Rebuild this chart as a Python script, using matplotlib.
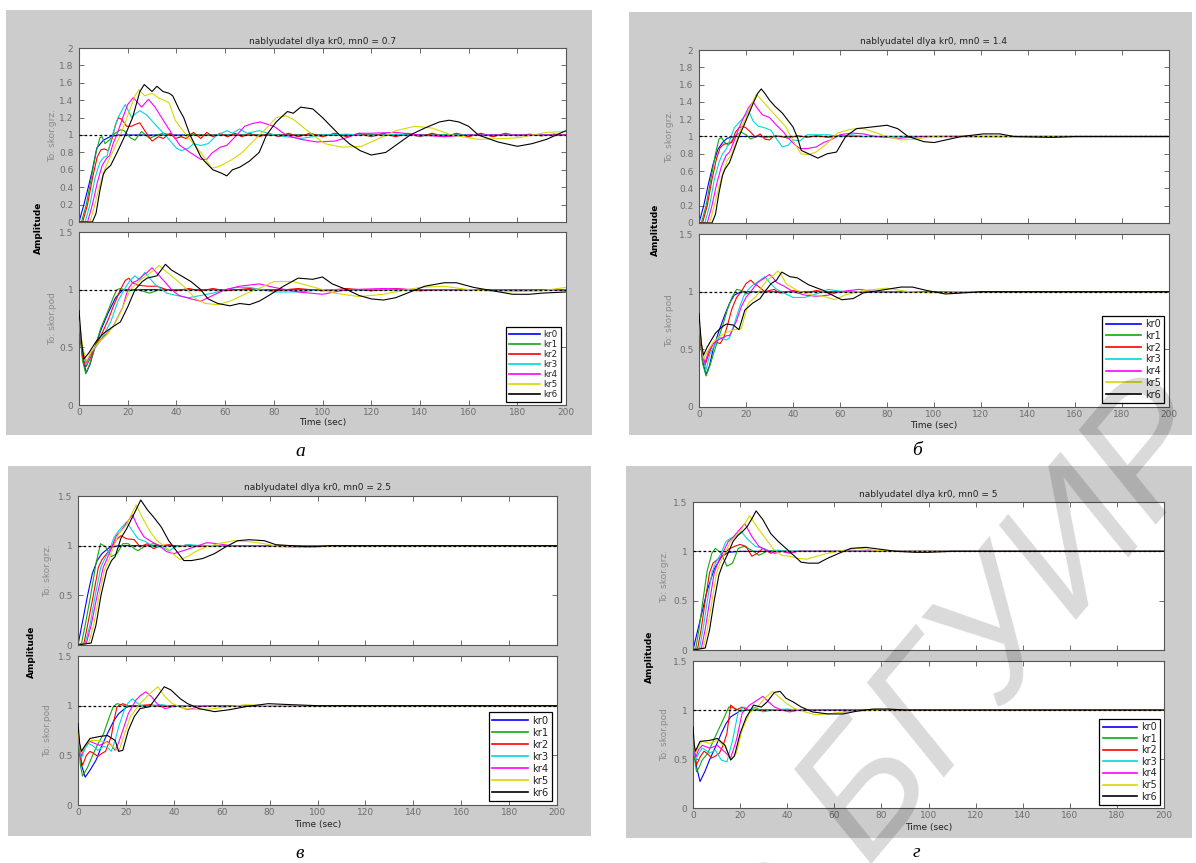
import matplotlib
matplotlib.use("Agg")
import matplotlib.pyplot as plt
from matplotlib.patches import Rectangle

# ---------------- data ----------------
series_labels = ["kr0", "kr1", "kr2", "kr3", "kr4", "kr5", "kr6"]
series_colors = ["#0000ff", "#10a810", "#ff0000", "#00d8d8", "#ff00ff", "#d8d800", "#000000"]

panel_titles = ["nablyudatel dlya kr0, mn0 = 0.7", "nablyudatel dlya kr0, mn0 = 1.4",
                "nablyudatel dlya kr0, mn0 = 2.5", "nablyudatel dlya kr0, mn0 = 5"]
panel_letters = ["а", "б", "в", "г"]
x_ticks = [0, 20, 40, 60, 80, 100, 120, 140, 160, 180, 200]
y_ticks_2 = [0, 0.2, 0.4, 0.6, 0.8, 1, 1.2, 1.4, 1.6, 1.8, 2]
y_ticks_15 = [0, 0.5, 1, 1.5]

# panel a (mn0 = 0.7) -- To: skor.grz.
a_grz_kr0 = [(0,0),(2,0.2),(4,0.42),(5.5,0.6),(7.3,0.85),(10,0.94),(12.7,0.98),(16,1.0),(200,1.0)]
a_grz_kr1 = [(0,0),(1,0),(3,0.2),(5,0.5),(7,0.8),(8.6,0.97),(9.5,0.98),(10.7,0.9),(12.7,0.95),(14.8,1.02),(17,1.06),(18.5,1.05),(21,0.97),(23,0.94),(25.7,1.04),(29,0.96),(32,1.0),(34.6,1.02),(38,1.0),(42,0.99),(46,1.01),(50,1.0),(200,1.0)]
a_grz_kr2 = [(0,0),(1.5,0),(3.5,0.2),(5.5,0.5),(7.5,0.75),(9,0.83),(10.5,0.84),(12,0.82),(13.5,0.95),(15,1.12),(16.2,1.2),(17.5,1.18),(19.6,1.1),(21.5,1.1),(23,1.12),(25,1.14),(27,1.05),(30,0.93),(32.6,0.98),(34.6,0.96),(37.4,1.02),(39.5,0.96),(42,0.98),(44,0.96),(47,1.03),(50,0.96),(52.5,1.03),(55,0.98),(58,1.02),(61,0.98),(64,1.02),(67,0.98),(70,1.02),(74,0.98),(78,1.02),(82,0.98),(86,1.02),(90,0.98),(95,1.02),(100,0.98),(105,1.02),(110,0.98),(115,1.02),(120,0.98),(125,1.02),(130,0.98),(135,1.02),(140,0.98),(145,1.02),(150,0.98),(155,1.02),(160,0.98),(165,1.02),(170,0.98),(175,1.02),(180,0.99),(185,1.01),(190,0.99),(195,1.01),(200,1.0)]
a_grz_kr3 = [(0,0),(2.5,0),(4.5,0.2),(6.5,0.5),(8.5,0.68),(10,0.74),(11.5,0.76),(13.5,0.98),(16,1.2),(19,1.35),(21.6,1.2),(23,1.24),(25,1.28),(27.8,1.23),(32,1.1),(36,0.98),(40,0.85),(42,0.82),(45,0.85),(47,0.9),(50,0.88),(53,0.9),(56.6,1.0),(58.6,1.02),(60.7,1.05),(63,1.02),(66,1.07),(69,1.02),(74,1.05),(80,1.0),(85,0.98),(91,0.96),(96,0.98),(100,1.0),(110,1.01),(120,0.99),(130,1.01),(140,0.99),(150,1.0),(200,1.0)]
a_grz_kr4 = [(0,0),(3.5,0),(5.5,0.2),(7.5,0.45),(9.5,0.65),(11.5,0.74),(12.5,0.76),(14,0.9),(15.5,1.0),(18,1.2),(20,1.35),(22.3,1.43),(25.7,1.32),(28.5,1.41),(31,1.33),(34.6,1.17),(38,1.02),(41.5,0.88),(45.6,0.8),(50,0.72),(52.5,0.72),(54.5,0.79),(58,0.86),(60.7,0.88),(64.8,1.0),(68,1.1),(71,1.13),(74.4,1.15),(80,1.1),(85,1.0),(91,0.95),(97.7,0.92),(105,0.93),(110,0.97),(115,1.02),(120,1.02),(130,1.03),(140,1.0),(150,0.98),(160,1.0),(200,1.0)]
a_grz_kr5 = [(0,0),(4.5,0),(6.5,0.2),(8.5,0.42),(10.5,0.6),(12,0.7),(13,0.75),(15,0.88),(17,1.0),(19,1.15),(21,1.3),(23,1.45),(24.6,1.52),(27,1.45),(30,1.48),(33,1.42),(35,1.4),(37,1.37),(39.5,1.17),(44,1.0),(50,0.8),(54.5,0.62),(56.6,0.63),(59,0.66),(63,0.72),(67,0.8),(71.6,0.93),(76,1.05),(81,1.2),(85,1.22),(88,1.18),(96,1.0),(101,0.9),(108,0.86),(116,0.87),(124,0.97),(130,1.05),(138,1.1),(145,1.08),(153,1.0),(164,0.95),(175,0.96),(181,0.97),(192,1.03),(200,1.04)]
a_grz_kr6 = [(0,0),(5.5,0),(7,0.1),(8.5,0.35),(10,0.55),(11,0.6),(13,0.65),(16,0.82),(19,1.0),(22,1.2),(25,1.5),(26.8,1.58),(30,1.5),(32,1.56),(34.5,1.5),(37,1.48),(38.5,1.45),(41,1.3),(43,1.2),(45.6,1.0),(50,0.75),(51.5,0.7),(55,0.6),(58.6,0.56),(60.7,0.53),(63,0.6),(66,0.63),(70,0.7),(74,0.8),(77,1.0),(81,1.15),(85.6,1.27),(88,1.25),(91,1.32),(96,1.3),(100,1.2),(107,1.0),(111,0.9),(115.5,0.82),(120,0.77),(126,0.8),(131,0.9),(136,1.0),(142,1.08),(148,1.15),(152,1.17),(156,1.15),(160,1.1),(164,1.0),(172,0.92),(180,0.87),(186,0.9),(192,0.95),(200,1.05)]

# panel a -- To: skor.pod
a_pod_kr0 = [(0,0.7),(1.5,0.4),(3,0.28),(4.5,0.35),(6.5,0.5),(9,0.65),(12,0.8),(15,0.93),(18,1.0),(200,1.0)]
a_pod_kr1 = [(0,0.7),(1.5,0.38),(2.8,0.27),(4.5,0.36),(6.5,0.5),(9,0.67),(12,0.82),(14,0.93),(15.5,1.0),(17,1.01),(20,0.99),(24,1.0),(29,0.97),(33,1.0),(40,1.0),(200,1.0)]
a_pod_kr2 = [(0,0.72),(1.5,0.42),(2.8,0.33),(4.5,0.4),(6.5,0.5),(9,0.6),(12,0.74),(14,0.85),(17,1.0),(19,1.08),(20.5,1.1),(22,1.06),(24,1.04),(28,1.03),(32,1.03),(36,1.0),(40,0.99),(45,1.01),(50,0.99),(55,1.01),(60,0.99),(70,1.01),(80,0.99),(90,1.01),(100,0.99),(110,1.01),(120,0.99),(130,1.01),(140,0.99),(150,1.0),(200,1.0)]
a_pod_kr3 = [(0,0.72),(1.5,0.45),(3,0.35),(5,0.45),(7.5,0.52),(10,0.6),(13,0.72),(16,0.9),(18.5,1.0),(21,1.08),(23,1.12),(25,1.08),(27,1.15),(29,1.1),(31,1.05),(36,0.97),(40,0.95),(45,0.93),(50,0.95),(55,0.97),(60,1.0),(65,1.02),(70,1.02),(80,0.98),(90,0.98),(100,1.0),(120,1.0),(200,1.0)]
a_pod_kr4 = [(0,0.73),(1.5,0.48),(3,0.37),(5,0.45),(7.5,0.53),(10.5,0.6),(14,0.68),(18,0.85),(20,1.0),(22,1.06),(24,1.08),(26,1.12),(28,1.15),(30,1.19),(33,1.12),(36,1.05),(38,1.0),(41,0.95),(46,0.92),(50,0.9),(55,0.95),(60,1.0),(66,1.03),(70,1.04),(74,1.05),(80,1.02),(90,0.98),(100,0.96),(110,1.0),(125,1.01),(140,1.0),(200,1.0)]
a_pod_kr5 = [(0,0.75),(1.5,0.5),(3,0.38),(5,0.46),(7.5,0.53),(11,0.6),(14,0.68),(17,0.8),(21,1.0),(25,1.08),(29,1.14),(33,1.21),(35,1.17),(38,1.12),(43,1.03),(48,0.92),(52,0.88),(57,0.87),(62,0.9),(68,0.96),(75,1.02),(80,1.07),(88,1.07),(95,1.03),(105,0.97),(115,0.94),(125,0.96),(140,1.02),(150,1.03),(160,1.0),(175,0.98),(190,0.99),(200,1.02)]
a_pod_kr6 = [(0,0.82),(1,0.55),(2,0.4),(4,0.45),(7,0.55),(10,0.62),(14,0.68),(17,0.72),(20,0.85),(23,1.0),(26,1.07),(28,1.1),(32,1.12),(35.5,1.22),(38,1.17),(42,1.12),(46,1.07),(50,1.0),(53,0.92),(57,0.88),(62,0.86),(66,0.88),(70,0.87),(74,0.9),(78,0.95),(84,1.03),(90,1.1),(96,1.09),(100,1.11),(104,1.05),(110,1.0),(115,0.95),(120,0.92),(125,0.91),(130,0.93),(136,0.98),(142,1.03),(150,1.06),(155,1.06),(162,1.02),(170,0.99),(178,0.96),(185,0.96),(190,0.97),(200,0.98)]

# panel b (mn0 = 1.4) -- To: skor.grz.
b_grz_kr0 = [(0,0),(2,0.2),(4,0.45),(6,0.68),(8,0.85),(10,0.93),(12,0.98),(15,1.0),(200,1.0)]
b_grz_kr1 = [(0,0),(1,0),(3,0.2),(5,0.5),(7,0.8),(8.5,0.97),(9.5,0.99),(11,0.93),(12.5,0.9),(14,0.95),(16,1.02),(18,1.05),(20,1.02),(22,0.97),(25,1.01),(28,0.99),(32,1.0),(200,1.0)]
b_grz_kr2 = [(0,0),(1.5,0),(3.5,0.2),(5.5,0.5),(7.5,0.75),(9,0.87),(10.5,0.91),(12,0.92),(14,0.93),(15.5,1.05),(17,1.1),(18.5,1.12),(20,1.1),(22,1.05),(24,0.99),(26,1.03),(28,0.97),(30,0.96),(32,1.01),(35,1.0),(38,0.98),(42,1.01),(46,0.99),(50,1.01),(55,0.99),(60,1.01),(70,1.0),(200,1.0)]
b_grz_kr3 = [(0,0),(2.5,0),(4.5,0.2),(6.5,0.5),(8.5,0.7),(10,0.8),(11.5,0.85),(13,0.95),(15,1.1),(17,1.16),(19,1.22),(21.2,1.29),(23,1.18),(25.2,1.12),(28,1.1),(30.7,1.07),(33,0.97),(35.5,0.88),(38,0.9),(40,0.96),(43,0.95),(46,1.02),(50,1.02),(55,1.02),(60,1.0),(65,1.02),(70,1.0),(80,1.0),(200,1.0)]
b_grz_kr4 = [(0,0),(3.5,0),(5.5,0.2),(7.5,0.45),(9.5,0.65),(11.5,0.78),(13,0.82),(15,0.95),(17,1.1),(19,1.22),(21,1.33),(23,1.4),(25,1.32),(27,1.25),(30,1.22),(33,1.13),(36,1.05),(38,0.98),(41,0.9),(43,0.86),(46,0.86),(50,0.88),(53,0.93),(56,0.96),(60,1.02),(65,1.04),(70,1.03),(75,1.0),(85,0.98),(95,1.0),(200,1.0)]
b_grz_kr5 = [(0,0),(4.5,0),(6.5,0.2),(8.5,0.42),(10.5,0.6),(12,0.72),(14,0.8),(16,0.95),(18,1.1),(20,1.22),(22,1.35),(24.4,1.49),(26,1.44),(29,1.35),(33,1.23),(37,1.11),(40,0.95),(43.4,0.8),(46.6,0.79),(49.8,0.82),(54.5,0.92),(59,1.04),(64,1.08),(68.8,1.1),(73.5,1.06),(80,1.0),(86,0.96),(92.5,0.97),(99,1.0),(110,1.01),(120,1.0),(200,1.0)]
b_grz_kr6 = [(0,0),(5.5,0),(7,0.1),(8.5,0.35),(10,0.55),(11,0.62),(13,0.7),(15,0.85),(17,1.0),(19,1.12),(21,1.25),(23,1.38),(25,1.5),(26.5,1.55),(28,1.5),(30,1.42),(32.3,1.35),(35.5,1.27),(40,1.11),(42,0.98),(43.5,0.84),(46.6,0.8),(50.6,0.75),(54.5,0.8),(58.5,0.82),(62.4,1.0),(67,1.09),(73.5,1.11),(80,1.13),(84.6,1.09),(89,1.0),(95.7,0.94),(100,0.93),(105,0.96),(111.6,1.0),(121,1.03),(128,1.03),(134,1.0),(150,0.99),(160,1.0),(200,1.0)]

# panel b -- To: skor.pod
b_pod_kr0 = [(0,0.7),(1.5,0.4),(3,0.28),(4.5,0.36),(6,0.5),(8.5,0.66),(11,0.8),(13,0.9),(15,0.97),(18,1.0),(200,1.0)]
b_pod_kr1 = [(0,0.7),(1.5,0.38),(3,0.27),(4.5,0.35),(6,0.45),(8,0.58),(10,0.7),(12,0.84),(14,0.95),(16,1.02),(18,1.01),(20,0.98),(23,1.0),(200,1.0)]
b_pod_kr2 = [(0,0.72),(1.3,0.45),(2.5,0.36),(4,0.45),(6,0.55),(7.5,0.56),(9,0.55),(10.5,0.6),(12,0.7),(14,0.85),(16,0.95),(18,1.0),(20,1.07),(22,1.1),(23.5,1.07),(25,1.05),(28,1.0),(30,1.01),(32,1.02),(34,0.99),(36,0.99),(40,1.01),(45,0.99),(50,1.01),(55,0.99),(60,1.0),(200,1.0)]
b_pod_kr3 = [(0,0.72),(1.5,0.45),(3,0.32),(4.5,0.45),(7,0.55),(8.5,0.6),(10,0.6),(11.5,0.58),(13,0.6),(15,0.72),(17,0.85),(19,0.96),(21,1.02),(22.5,1.05),(24,1.07),(26,1.1),(28,1.13),(30,1.08),(31.5,1.05),(33,1.02),(35,1.0),(38,0.97),(40,0.95),(45,0.95),(48,0.97),(50,0.98),(55,1.02),(58,1.01),(62,1.0),(200,1.0)]
b_pod_kr4 = [(0,0.73),(1.5,0.47),(2.5,0.38),(4,0.48),(6,0.55),(8,0.58),(10,0.6),(12,0.62),(13,0.62),(14.5,0.68),(16,0.75),(18,0.87),(20,0.95),(22,1.0),(25,1.08),(28,1.12),(30,1.15),(31.5,1.12),(33,1.08),(36,1.05),(40,1.0),(45,0.97),(50,0.96),(55,0.97),(60,1.0),(68,1.02),(75,1.0),(200,1.0)]
b_pod_kr5 = [(0,0.75),(1,0.55),(2,0.42),(3.5,0.48),(6,0.56),(8.6,0.61),(12,0.65),(15,0.67),(18,0.68),(21,0.9),(24.4,0.96),(27,1.05),(29,1.1),(31,1.13),(33.6,1.18),(35,1.15),(37,1.07),(41.8,1.01),(48,0.97),(53,0.96),(57.7,0.93),(62,0.97),(70,1.01),(80,1.03),(89,1.0),(98.6,0.99),(110,1.0),(200,1.0)]
b_pod_kr6 = [(0,0.81),(1,0.55),(1.9,0.45),(3.5,0.52),(7,0.64),(9.5,0.69),(11.7,0.72),(14.7,0.71),(17,0.67),(19.5,0.84),(22.8,0.9),(26,0.94),(28,1.0),(30.7,1.07),(33,1.1),(35.2,1.17),(38.7,1.13),(41.8,1.12),(46.6,1.06),(53,1.01),(57.7,0.96),(60.8,0.93),(65.6,0.94),(70,0.99),(76.7,1.01),(86,1.04),(90.8,1.04),(97,1.01),(105,0.98),(113,0.99),(120,1.0),(200,1.0)]

# panel c (mn0 = 2.5) -- To: skor.grz.
c_grz_kr0 = [(0,0),(2,0.25),(4,0.5),(6,0.72),(8,0.85),(10,0.92),(13,0.98),(17,1.0),(200,1.0)]
c_grz_kr1 = [(0,0),(1.5,0.02),(3,0.2),(5.3,0.5),(7.5,0.82),(9.4,1.02),(11.5,0.99),(13.9,0.89),(16.3,0.92),(18.7,1.02),(21,1.02),(23.5,0.97),(25,0.95),(28.3,1.0),(31.5,1.02),(34.7,1.0),(200,1.0)]
c_grz_kr2 = [(0,0),(2.5,0.02),(4,0.2),(6.4,0.5),(8.5,0.78),(10,0.86),(12,0.92),(14,0.98),(16,1.06),(17.9,1.1),(20.3,1.07),(23.5,1.06),(25.9,0.99),(29,1.02),(31.5,0.97),(34.7,1.0),(38,1.01),(42,0.99),(46,1.01),(50,0.99),(55,1.0),(200,1.0)]
c_grz_kr3 = [(0,0),(3,0.02),(5,0.2),(7.2,0.5),(9.5,0.78),(11,0.86),(13,0.95),(15,1.08),(17,1.15),(20.3,1.24),(22.7,1.15),(25,1.07),(28.3,1.04),(31.5,0.99),(34.7,0.99),(38,0.95),(41,0.99),(46,1.01),(52,1.0),(200,1.0)]
c_grz_kr4 = [(0,0),(3.5,0.02),(5.5,0.2),(8,0.5),(10.5,0.78),(12,0.86),(14,0.98),(16,1.1),(18,1.15),(20,1.22),(22.7,1.31),(25,1.19),(27.5,1.09),(30.7,1.04),(33.9,1.0),(37,0.94),(40,0.92),(44,0.95),(49,0.99),(53.8,1.03),(58.6,1.02),(63.4,1.0),(200,1.0)]
c_grz_kr5 = [(0,0),(4.5,0.02),(6.5,0.2),(8.8,0.5),(11,0.75),(13,0.86),(15,1.0),(17,1.12),(20,1.2),(22,1.3),(24.3,1.41),(26.7,1.29),(29.9,1.15),(33,1.05),(36.3,0.99),(39.5,0.92),(42.7,0.86),(45.8,0.89),(49,0.94),(53.8,0.99),(58.6,1.02),(65,1.05),(71.4,1.04),(77.8,1.02),(84,0.99),(92,0.98),(100,0.99),(110,1.0),(200,1.0)]
c_grz_kr6 = [(0,0),(5.5,0.02),(7.5,0.2),(9.6,0.5),(12,0.75),(14,0.85),(15.5,0.89),(18,1.08),(20.3,1.17),(23,1.3),(26.2,1.46),(29,1.36),(31.5,1.29),(34.7,1.19),(37.9,1.05),(41,0.95),(44.2,0.85),(47.4,0.85),(52,0.87),(57,0.92),(61.8,0.99),(66.6,1.05),(71.4,1.06),(77.8,1.05),(82.6,1.01),(89,1.0),(95,0.99),(100,0.99),(105,1.0),(200,1.0)]

# panel c -- To: skor.pod
c_pod_kr0 = [(0,0.75),(1.5,0.4),(3,0.28),(5,0.35),(7.5,0.45),(10,0.6),(12.3,0.72),(15,0.85),(17,0.92),(20,0.98),(22,1.0),(200,1.0)]
c_pod_kr1 = [(0,0.72),(1,0.4),(1.9,0.29),(4,0.38),(5.9,0.49),(8,0.6),(10.7,0.72),(13,0.88),(14.7,0.99),(16.3,1.02),(18,1.01),(20.3,0.99),(24,1.0),(200,1.0)]
c_pod_kr2 = [(0,0.72),(1,0.48),(1.9,0.4),(3.5,0.5),(5,0.54),(6.5,0.52),(8.3,0.49),(10,0.52),(11.5,0.54),(13.9,0.69),(15,0.85),(16.3,0.99),(18.7,1.02),(21.9,0.99),(25,1.0),(30,1.01),(35,0.99),(40,1.0),(200,1.0)]
c_pod_kr3 = [(0,0.72),(0.7,0.55),(1.4,0.47),(3,0.57),(4.3,0.62),(6,0.6),(8.3,0.55),(10.7,0.59),(12.3,0.58),(13.9,0.54),(15.5,0.65),(17,0.79),(19.5,0.97),(21,1.03),(22.7,1.07),(25,1.02),(27.5,0.99),(30,1.0),(35,1.01),(40,0.99),(45,1.0),(200,1.0)]
c_pod_kr4 = [(0,0.73),(0.7,0.58),(1.4,0.5),(3,0.6),(5,0.64),(7,0.62),(9,0.6),(12.3,0.64),(14,0.6),(15.5,0.55),(17,0.63),(18.7,0.75),(21,0.92),(24.3,1.06),(26,1.1),(28.3,1.14),(30.7,1.09),(33,1.02),(36.3,0.97),(41,1.0),(45.8,0.96),(50.6,0.99),(57,1.0),(200,1.0)]
c_pod_kr5 = [(0,0.75),(0.7,0.6),(1.4,0.52),(3,0.6),(5,0.65),(7.5,0.65),(9.9,0.64),(12,0.63),(13.9,0.6),(17,0.54),(19.5,0.72),(21.9,0.89),(25.9,1.02),(28,1.07),(29.9,1.12),(33.4,1.19),(36.3,1.09),(39.5,1.02),(44.2,0.97),(50.6,0.96),(57,0.97),(63.4,0.99),(70,1.01),(80,1.0),(200,1.0)]
c_pod_kr6 = [(0,0.82),(0.7,0.62),(1.4,0.54),(3,0.6),(5,0.67),(9.1,0.69),(12.3,0.7),(15.5,0.65),(17,0.54),(18.7,0.55),(21,0.75),(23.5,0.89),(25.9,0.97),(29.9,0.99),(33,1.09),(36,1.19),(38.7,1.16),(42.7,1.07),(45.8,1.02),(50.6,0.97),(57,0.94),(63.4,0.96),(70,0.99),(79.4,1.02),(89,1.01),(100,1.0),(200,1.0)]

# panel d (mn0 = 5) -- To: skor.grz.
d_grz_kr0 = [(0,0),(3,0.3),(6,0.6),(9,0.82),(12,0.94),(15,0.99),(20,1.0),(200,1.0)]
d_grz_kr1 = [(0,0),(1.2,0.02),(2.5,0.2),(4.2,0.5),(6,0.8),(8,0.98),(9.5,1.03),(12,0.98),(14.4,0.85),(16.8,0.88),(19.2,1.03),(21.7,1.05),(25,1.01),(28,0.96),(31.4,1.0),(34.6,1.01),(40,1.0),(200,1.0)]
d_grz_kr2 = [(0,0),(2,0.02),(3.4,0.2),(5.2,0.5),(7,0.78),(8.5,0.88),(10.5,0.92),(12.5,0.95),(15,1.02),(17.6,1.05),(20,1.07),(22.5,1.05),(25,0.95),(27.3,0.98),(29.7,1.03),(33,0.98),(36,1.01),(40,0.99),(45,1.0),(200,1.0)]
d_grz_kr3 = [(0,0),(2.8,0.02),(4.2,0.2),(6.1,0.5),(8,0.78),(9.5,0.88),(11.5,0.96),(14,1.1),(16.5,1.14),(18.5,1.16),(20.4,1.2),(23.3,1.12),(26.5,1.05),(29.7,1.03),(33,1.0),(36,1.01),(40,1.0),(200,1.0)]
d_grz_kr4 = [(0,0),(3.6,0.02),(5.1,0.2),(7.1,0.5),(9,0.78),(10.5,0.88),(12.5,0.98),(15,1.1),(17,1.14),(19,1.2),(22,1.28),(25,1.15),(28,1.05),(31.4,1.01),(34.6,0.98),(37.8,1.0),(41,0.98),(44.3,1.0),(50,1.0),(200,1.0)]
d_grz_kr5 = [(0,0),(4.4,0.02),(6,0.2),(8.1,0.5),(10,0.78),(11.5,0.88),(13.5,0.98),(16,1.1),(18,1.15),(20,1.2),(22,1.28),(24,1.36),(28,1.22),(31.4,1.11),(34.6,1.01),(37.8,0.96),(41,0.95),(44.3,0.93),(48.3,0.92),(52.4,0.95),(57.2,0.98),(63.7,1.01),(70,1.03),(78,1.01),(85,1.0),(200,1.0)]
d_grz_kr6 = [(0,0),(5.2,0.02),(7,0.2),(9,0.5),(11,0.76),(12.5,0.86),(14.5,0.96),(17,1.1),(19,1.16),(21,1.2),(23,1.25),(25,1.33),(26.8,1.41),(29.7,1.32),(33,1.18),(36.2,1.1),(39.5,1.03),(42.7,0.96),(45.9,0.89),(49.2,0.88),(53.2,0.88),(57.2,0.93),(62,0.98),(67,1.03),(73.4,1.04),(79.9,1.02),(86.3,1.0),(94.4,0.99),(100,0.99),(110,1.0),(200,1.0)]

# panel d -- To: skor.pod
d_pod_kr0 = [(0,0.72),(1.5,0.42),(3,0.27),(5,0.37),(7,0.49),(9.5,0.62),(12,0.76),(14,0.86),(16,0.93),(20,0.99),(23,1.0),(200,1.0)]
d_pod_kr1 = [(0,0.72),(0.8,0.48),(1.5,0.37),(2.7,0.42),(3.9,0.49),(6.3,0.56),(8.7,0.69),(12,0.86),(15.2,1.03),(17.6,1.02),(20,0.99),(23,1.0),(200,1.0)]
d_pod_kr2 = [(0,0.73),(0.8,0.52),(1.5,0.44),(3,0.52),(4.7,0.58),(6.3,0.55),(7.9,0.51),(9.5,0.53),(11.2,0.56),(12.8,0.64),(14.4,0.76),(16,1.05),(18.4,1.0),(20.9,1.03),(23.3,1.0),(27,1.01),(30,0.99),(35,1.0),(200,1.0)]
d_pod_kr3 = [(0,0.73),(0.6,0.55),(1.2,0.49),(2.5,0.56),(3.9,0.61),(5.5,0.59),(7.1,0.56),(9.5,0.59),(12,0.49),(14.4,0.47),(16.8,0.69),(19.2,0.98),(21.7,1.03),(24,1.0),(26.5,1.03),(29.7,0.98),(33,1.0),(40,1.01),(45,1.0),(200,1.0)]
d_pod_kr4 = [(0,0.74),(0.6,0.58),(1.2,0.52),(2.5,0.6),(3.9,0.64),(7.1,0.61),(10.3,0.64),(13.6,0.57),(16,0.51),(18.4,0.69),(20.9,0.97),(24,1.05),(27.3,1.1),(29.7,1.14),(32.2,1.08),(34.6,1.03),(37.8,1.0),(41,0.98),(45,1.0),(200,1.0)]
d_pod_kr5 = [(0,0.75),(0.6,0.62),(1.2,0.56),(2.5,0.64),(3.9,0.68),(7.1,0.66),(10.3,0.69),(13.6,0.63),(16,0.49),(18.4,0.56),(20.9,0.8),(24,0.97),(27.3,1.03),(30.5,1.12),(33.8,1.19),(36.2,1.14),(39.5,1.07),(42.7,1.02),(47.5,0.98),(52.4,0.95),(57.2,0.96),(63.7,0.98),(70,0.99),(80,1.0),(200,1.0)]
d_pod_kr6 = [(0,0.83),(0.5,0.65),(1,0.58),(3,0.68),(7.1,0.69),(10.3,0.71),(13.6,0.64),(16,0.49),(17.6,0.53),(20,0.76),(22.5,0.92),(25.7,1.05),(29,1.03),(31.4,1.08),(34.6,1.18),(37,1.19),(39.5,1.12),(42.7,1.08),(46,1.03),(50.8,0.98),(57.2,0.96),(63.7,0.96),(70,0.99),(76.6,1.01),(83,1.01),(90,1.0),(200,1.0)]

steady_value = 1.0

# ---------------- layout (pixels of the 1196x863 canvas) ----------------
W, H = 1196, 863
fig = plt.figure(figsize=(W / 100, H / 100), dpi=100)
fig.patch.set_facecolor("white")

def frac_rect(x0, y0, x1, y1):
    return [x0 / W, 1 - y1 / H, (x1 - x0) / W, (y1 - y0) / H]

panels = [
    dict(bg=(6, 10, 592, 435), xs=(79, 566), top=(48, 222), bot=(232, 405), title_y=41,
         amp=(38, 228), ylab_x=53, time_y=422, letter=(300, 452), ytop=(0, 2), yt=y_ticks_2,
         grz=[a_grz_kr0, a_grz_kr1, a_grz_kr2, a_grz_kr3, a_grz_kr4, a_grz_kr5, a_grz_kr6],
         pod=[a_pod_kr0, a_pod_kr1, a_pod_kr2, a_pod_kr3, a_pod_kr4, a_pod_kr5, a_pod_kr6],
         leg=(6.3, 0.12, 5, 3)),
    dict(bg=(629, 12, 1192, 435), xs=(699, 1169), top=(50, 223), bot=(234, 407), title_y=41,
         amp=(655, 230), ylab_x=670, time_y=425, letter=(917, 450), ytop=(0, 2), yt=y_ticks_2,
         grz=[b_grz_kr0, b_grz_kr1, b_grz_kr2, b_grz_kr3, b_grz_kr4, b_grz_kr5, b_grz_kr6],
         pod=[b_pod_kr0, b_pod_kr1, b_pod_kr2, b_pod_kr3, b_pod_kr4, b_pod_kr5, b_pod_kr6],
         leg=(7.0, 0.18, 5, 4)),
    dict(bg=(8, 466, 591, 836), xs=(78, 557), top=(496, 645), bot=(656, 805), title_y=487,
         amp=(31, 652), ylab_x=48, time_y=824, letter=(300, 853), ytop=(0, 1.5), yt=y_ticks_15,
         grz=[c_grz_kr0, c_grz_kr1, c_grz_kr2, c_grz_kr3, c_grz_kr4, c_grz_kr5, c_grz_kr6],
         pod=[c_pod_kr0, c_pod_kr1, c_pod_kr2, c_pod_kr3, c_pod_kr4, c_pod_kr5, c_pod_kr6],
         leg=(7.2, 0.2, 5, 4)),
    dict(bg=(626, 466, 1192, 838), xs=(693, 1164), top=(502, 650), bot=(661, 808), title_y=494,
         amp=(649, 657), ylab_x=665, time_y=827, letter=(916, 852), ytop=(0, 1.5), yt=y_ticks_15,
         grz=[d_grz_kr0, d_grz_kr1, d_grz_kr2, d_grz_kr3, d_grz_kr4, d_grz_kr5, d_grz_kr6],
         pod=[d_pod_kr0, d_pod_kr1, d_pod_kr2, d_pod_kr3, d_pod_kr4, d_pod_kr5, d_pod_kr6],
         leg=(6.9, 0.17, 4, 3)),
]

EDGE = "#555555"
TICKLAB = "#6e6e6e"

def fmt(v):
    return f"{v:g}"

def style_axes(ax, ylim, yticks, show_x):
    ax.set_xlim(0, 200)
    ax.set_ylim(*ylim)
    ax.set_facecolor("white")
    ax.set_xticks(x_ticks)
    ax.set_yticks(yticks)
    ax.set_yticklabels([fmt(v) for v in yticks])
    if show_x:
        ax.set_xticklabels([fmt(v) for v in x_ticks])
    else:
        ax.set_xticklabels([])
    ax.tick_params(direction="in", length=3.5, width=0.6, color=EDGE, top=True, right=True,
                   labelsize=6.5, labelcolor=TICKLAB, pad=2)
    ax.tick_params(axis="y", pad=4)
    for s in ax.spines.values():
        s.set_color(EDGE)
        s.set_linewidth(0.8)

for i, p in enumerate(panels):
    x0, y0, x1, y1 = p["bg"]
    fig.patches.append(Rectangle((x0 / W, 1 - y1 / H), (x1 - x0) / W, (y1 - y0) / H,
                                 transform=fig.transFigure, facecolor="#cccccc",
                                 edgecolor="none", zorder=-10))
    xa, xb = p["xs"]
    ax_top = fig.add_axes(frac_rect(xa, p["top"][0], xb, p["top"][1]))
    ax_bot = fig.add_axes(frac_rect(xa, p["bot"][0], xb, p["bot"][1]))
    ax_top.set_zorder(2)
    ax_bot.set_zorder(2)
    style_axes(ax_top, p["ytop"], p["yt"], False)
    style_axes(ax_bot, (0, 1.5), y_ticks_15, True)

    handles = []
    for k in range(7):
        tt = [pt[0] for pt in p["grz"][k]]
        yy = [pt[1] for pt in p["grz"][k]]
        ax_top.plot(tt, yy, color=series_colors[k], lw=0.8, zorder=2 + k)
        tt = [pt[0] for pt in p["pod"][k]]
        yy = [pt[1] for pt in p["pod"][k]]
        h, = ax_bot.plot(tt, yy, color=series_colors[k], lw=0.8, zorder=2 + k,
                         label=series_labels[k])
        handles.append(h)
    for ax in (ax_top, ax_bot):
        ax.axhline(steady_value, color="black", lw=0.9, ls=(0, (2.2, 1.8)), zorder=20)

    fs, lsp, gap_r, gap_b = p["leg"]
    aw = xb - xa
    ah = p["bot"][1] - p["bot"][0]
    leg = ax_bot.legend(handles=handles, loc="lower right",
                        bbox_to_anchor=(1 - gap_r / aw, gap_b / ah), borderaxespad=0,
                        fontsize=fs, labelspacing=lsp, handlelength=3.6, handletextpad=0.4,
                        borderpad=0.35, fancybox=False, framealpha=1, edgecolor="black",
                        labelcolor="#222222")
    leg.get_frame().set_linewidth(0.9)
    for ln in leg.get_lines():
        ln.set_linewidth(1.2)
    leg.set_zorder(30)

    cx = (xa + xb) / 2
    fig.text(cx / W, 1 - p["title_y"] / H, panel_titles[i], ha="center", va="center",
             fontsize=6.5, color="#222222")
    fig.text(cx / W, 1 - p["time_y"] / H, "Time (sec)", ha="center", va="center",
             fontsize=6.5, color="#222222")
    fig.text(p["amp"][0] / W, 1 - p["amp"][1] / H, "Amplitude", ha="center", va="center",
             rotation=90, fontsize=6.5, fontweight="bold", color="black")
    fig.text(p["ylab_x"] / W, 1 - (p["top"][0] + p["top"][1]) / 2 / H, "To: skor.grz.",
             ha="center", va="center", rotation=90, fontsize=6.5, color="#8a8a8a")
    fig.text(p["ylab_x"] / W, 1 - (p["bot"][0] + p["bot"][1]) / 2 / H, "To: skor.pod",
             ha="center", va="center", rotation=90, fontsize=6.5, color="#8a8a8a")
    fig.text(p["letter"][0] / W, 1 - p["letter"][1] / H, panel_letters[i], ha="center",
             va="center", fontsize=14, fontstyle="italic", family="Liberation Serif",
             color="black")

# watermark
fig.text(1228 / W, 1 - 440 / H, "Библиотека БГУИР", rotation=50, rotation_mode="anchor",
         ha="right", va="baseline", fontsize=125, fontstyle="italic",
         family="Liberation Sans", color="black", alpha=0.15, zorder=100)

fig.savefig("out.png", dpi=100, facecolor="white")
